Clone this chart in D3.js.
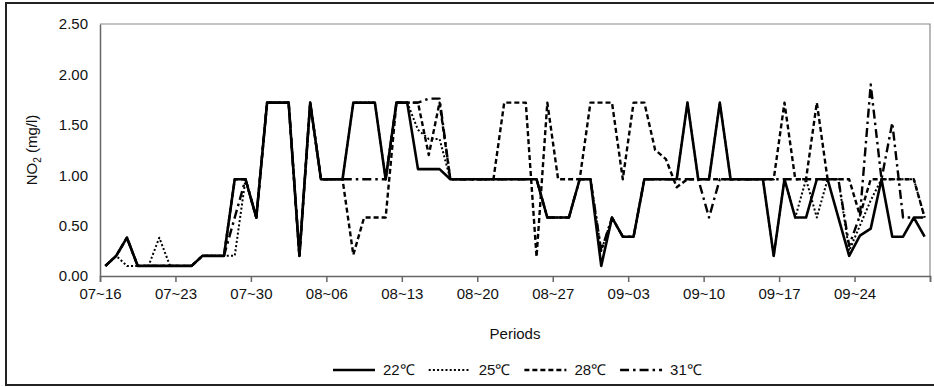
<!DOCTYPE html>
<html><head><meta charset="utf-8">
<script src="https://cdn.jsdelivr.net/npm/d3@7"></script>
<style>
body{margin:0;background:#fff}
svg{display:block}
text{font-family:"Liberation Sans",Arial,sans-serif;fill:#111}
</style>
</head><body>
<svg id="c" width="934" height="387"></svg>
<script>
// tick labels (weekly), last boundary tick unlabeled
const tickLabels = ["07~16","07~23","07~30","08~06","08~13","08~20","08~27","09~03","09~10","09~17","09~24",""];
const yTicks = [0, 0.5, 1.0, 1.5, 2.0, 2.5];
const seriesNames = ["22\u2103","25\u2103","28\u2103","31\u2103"];

// daily NO2 (mg/l), 07-16 .. 09-30
const t22 = [0.10,0.20,0.38,0.10,0.10,0.10,0.10,0.10,0.10,0.20,
 0.20,0.20,0.96,0.96,0.58,1.72,1.72,1.72,0.20,1.72,
 0.96,0.96,0.96,1.72,1.72,1.72,0.96,1.72,1.72,1.06,
 1.06,1.06,0.96,0.96,0.96,0.96,0.96,0.96,0.96,0.96,
 0.96,0.58,0.58,0.58,0.96,0.96,0.10,0.58,0.39,0.39,
 0.96,0.96,0.96,0.96,1.72,0.96,0.96,1.72,0.96,0.96,
 0.96,0.96,0.20,0.96,0.58,0.58,0.96,0.96,0.58,0.20,
 0.40,0.47,0.96,0.39,0.39,0.58,0.39];
const t25 = [0.10,0.20,0.10,0.10,0.10,0.38,0.10,0.10,0.10,0.20,
 0.20,0.20,0.20,0.96,0.58,1.72,1.72,1.72,0.20,1.72,
 0.96,0.96,0.96,1.72,1.72,1.72,0.96,1.72,1.72,1.45,
 1.36,1.36,0.96,0.96,0.96,0.96,0.96,0.96,0.96,0.96,
 0.96,0.58,0.58,0.58,0.96,0.96,0.25,0.58,0.39,0.39,
 0.96,0.96,0.96,0.96,1.72,0.96,0.96,1.72,0.96,0.96,
 0.96,0.96,0.20,0.96,0.58,0.96,0.58,0.96,0.96,0.25,
 0.50,0.75,0.96,0.96,0.96,0.96,0.58];
const t28 = [0.10,0.20,0.38,0.10,0.10,0.10,0.10,0.10,0.10,0.20,
 0.20,0.20,0.96,0.96,0.58,1.72,1.72,1.72,0.20,1.72,
 0.96,0.96,0.96,0.21,0.58,0.58,0.58,1.72,1.72,1.72,
 1.20,1.72,0.96,0.96,0.96,0.96,0.96,1.72,1.72,1.72,
 0.19,1.72,0.96,0.96,0.96,1.72,1.72,1.72,0.96,1.72,
 1.72,1.25,1.16,0.88,0.96,0.96,0.96,0.96,0.96,0.96,
 0.96,0.96,0.96,1.72,0.96,0.96,1.72,0.96,0.96,0.96,
 0.60,0.96,0.96,0.96,0.96,0.96,0.58];
const t31 = [0.10,0.20,0.38,0.10,0.10,0.10,0.10,0.10,0.10,0.20,
 0.20,0.20,0.58,0.96,0.58,1.72,1.72,1.72,0.20,1.72,
 0.96,0.96,0.96,0.96,0.96,0.96,0.96,1.72,1.72,1.72,
 1.76,1.76,0.96,0.96,0.96,0.96,0.96,0.96,0.96,0.96,
 0.96,0.58,0.58,0.58,0.96,0.96,0.25,0.58,0.39,0.39,
 0.96,0.96,0.96,0.96,0.96,0.96,0.58,0.96,0.96,0.96,
 0.96,0.96,0.96,0.96,0.96,0.96,0.96,0.96,0.96,0.30,
 0.60,1.90,0.96,1.52,0.58,0.58,0.58];

const svg = d3.select("#c");
const L = 100, R = 930, T = 24, B = 276;
const nDays = t22.length;

// outer frame
svg.append("rect").attr("x",6).attr("y",3).attr("width",960).attr("height",382)
  .attr("fill","none").attr("stroke","#222").attr("stroke-width",2);

const x = d3.scaleLinear().domain([-0.5, nDays - 0.5]).range([L, R]);
const y = d3.scaleLinear().domain([0, 2.5]).range([B, T]);

// plot border (top/right)
svg.append("path").attr("d",`M${L},${T}H${R}V${B}`).attr("fill","none")
  .attr("stroke","#8a8a8a").attr("stroke-width",1.2);

// y axis
const yAxis = d3.axisLeft(y).tickValues(yTicks).tickFormat(d3.format(".2f")).tickSize(0).tickPadding(12);
const gy = svg.append("g").attr("transform",`translate(${L},0)`).call(yAxis);
gy.select(".domain").attr("stroke","#666").attr("stroke-width",1.5);
gy.selectAll("text").style("font-size","15px").attr("fill","#111");

// x axis
const xTickVals = tickLabels.map((_, i) => -0.5 + 7 * i);
const xAxis = d3.axisBottom(x).tickValues(xTickVals).tickFormat((d, i) => tickLabels[i]).tickSizeOuter(0).tickSize(6).tickPadding(6);
const gx = svg.append("g").attr("transform",`translate(0,${B})`).call(xAxis);
gx.select(".domain").attr("stroke","#666").attr("stroke-width",1.5);
gx.selectAll(".tick line").attr("stroke","#666").attr("stroke-width",1.5);
gx.selectAll("text").style("font-size","15px").attr("fill","#111");

// axis titles
const yt = svg.append("text").attr("transform","translate(37,150) rotate(-90)")
  .attr("text-anchor","middle").style("font-size","15px");
yt.append("tspan").text("NO");
yt.append("tspan").text("2").style("font-size","10px").attr("dy",4);
yt.append("tspan").text(" (mg/l)").attr("dy",-4);

svg.append("text").attr("x",(L+R)/2).attr("y",339).attr("text-anchor","middle")
  .style("font-size","15px").text("Periods");

// series
const styles = [
  {w:2.6, dash:null},
  {w:2.0, dash:"2,2.2"},
  {w:2.4, dash:"5,3"},
  {w:2.4, dash:"9,4,2.5,4"}
];
const allSeries = [t22, t25, t28, t31];
const line = d3.line().x((d,i)=>x(i)).y(d=>y(d));
allSeries.forEach((s, k) => {
  svg.append("path").datum(s).attr("d", line)
    .attr("fill","none").attr("stroke","#000")
    .attr("stroke-width", styles[k].w)
    .attr("stroke-dasharray", styles[k].dash)
    .attr("stroke-linejoin","round");
});

// legend
let lx = 333;
const ly = 370;
seriesNames.forEach((name, k) => {
  svg.append("line").attr("x1",lx).attr("x2",lx+42).attr("y1",ly).attr("y2",ly)
    .attr("stroke","#000").attr("stroke-width",styles[k].w)
    .attr("stroke-dasharray",styles[k].dash);
  const t = svg.append("text").attr("x",lx+50).attr("y",ly+5).style("font-size","15px").text(name);
  lx = lx + 50 + t.node().getComputedTextLength() + 14;
});
</script>
</body></html>
